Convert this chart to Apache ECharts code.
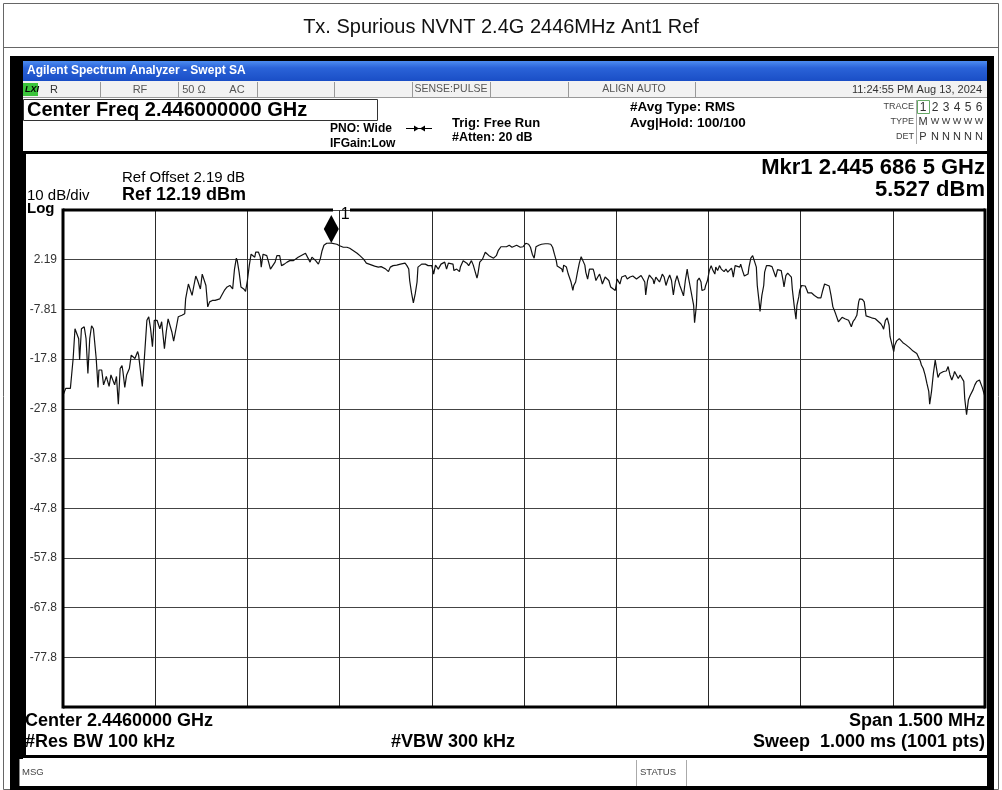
<!DOCTYPE html>
<html>
<head>
    <meta charset="utf-8">
    <title>Tx. Spurious NVNT 2.4G 2446MHz Ant1 Ref</title>
    <style>
        * { margin: 0; padding: 0; }
        body { background: #fff; }
        #main { width: 1002px; height: 790px; }
    </style>
    <script src="https://cdn.jsdelivr.net/npm/echarts@6/dist/echarts.min.js"></script>
</head>
<body>
    <div id="main"></div>
    <script type="text/javascript">
        // trace points: point index (0..1000, 1001 pts over 1.5 MHz span) and level in dBm
        var traceIdx = [0, 3, 8, 9, 11, 13, 15, 17, 18, 20, 23, 25, 27, 29, 31, 33, 36, 38, 39, 42, 44, 47, 48, 50, 52, 54, 56, 58, 60, 62, 64, 65, 67, 69, 72, 74, 76, 78, 81, 82, 86, 88, 91, 93, 95, 97, 99, 102, 104, 105, 107, 110, 112, 114, 116, 118, 120, 123, 125, 129, 132, 133, 136, 138, 140, 142, 144, 146, 149, 151, 153, 155, 157, 159, 162, 165, 167, 170, 172, 175, 178, 181, 184, 186, 188, 189, 191, 193, 196, 198, 200, 202, 204, 206, 208, 209, 212, 214, 215, 217, 219, 221, 223, 225, 227, 230, 232, 235, 237, 240, 243, 246,
            250, 252, 255, 259, 263, 265, 268, 270, 272, 274, 277, 279, 281, 283, 286, 291, 293, 297, 300, 304, 308, 311, 315, 319, 322, 326, 329, 331, 335, 338, 342, 345, 347, 350, 353, 355, 358, 362, 366, 368, 371, 373, 375, 376, 378, 380, 382, 384, 385, 387, 389, 391, 393, 394, 396, 398, 400, 402, 404, 405, 407, 410, 412, 414, 416, 418, 420, 423, 424, 427, 430, 431, 434, 436, 438, 440, 443, 445, 447, 449, 450, 452, 455, 458, 460, 462, 464, 467, 470, 472, 475, 478, 481, 484, 487, 489, 492, 496, 499,
            502, 505, 507, 509, 511, 513, 516, 519, 523, 526, 529, 531, 533, 535, 536, 538, 541, 542, 543, 546, 548, 551, 553, 554, 556, 558, 560, 562, 564, 566, 567, 569, 571, 572, 575, 576, 578, 580, 582, 584, 585, 588, 590, 592, 594, 596, 599, 601, 602, 604, 606, 608, 610, 612, 615, 618, 620, 622, 624, 627, 629, 631, 632, 634, 636, 638, 640, 641, 643, 645, 647, 649, 650, 652, 654, 656, 658, 660, 661, 662, 664, 666, 667, 669, 671, 673, 675, 677, 678, 680, 682, 684, 685, 687, 688, 690, 692, 693, 696, 697, 699, 701, 703, 705, 707, 708, 710, 712, 714, 716, 717, 719, 721, 723, 725, 726, 727, 729, 731, 734, 735, 737, 739, 741, 743, 744, 746, 748, 750,
            752, 753, 755, 756, 758, 760, 761, 763, 766, 769, 771, 773, 775, 777, 779, 781, 782, 784, 786, 788, 790, 791, 793, 795, 796, 798, 799, 801, 803, 805, 807, 808, 810, 812, 815, 817, 819, 822, 824, 826, 828, 831, 833, 835, 837, 838, 841, 843, 845, 846, 848, 850, 852, 854, 855, 857, 859, 861, 863, 864, 867, 869, 871, 873, 877, 881, 884, 887, 889, 890, 892, 894, 896, 897, 899, 901, 902, 904, 907, 909, 911, 914, 916, 918, 920, 922, 924, 926, 928, 930, 931, 933, 935, 937, 939, 940, 942, 944, 946, 948, 949, 951, 953, 955, 957, 958, 960, 962, 964, 966, 967, 969, 971, 973, 975, 977, 978, 980, 982, 984, 986, 987, 989, 991, 994, 996, 997, 1000];
        var traceDbm = [-25.1, -23.7, -23.7, -21.7, -17.7, -11.7, -11.3, -13.7, -18.0, -11.7, -11.3, -13.7, -20.7, -13.7, -11.1, -11.7, -17.7, -23.5, -20.0, -20.0, -23.0, -21.3, -22.0, -23.3, -21.0, -21.0, -23.0, -21.3, -26.9, -19.7, -19.1, -20.3, -23.5, -21.0, -19.7, -17.0, -16.7, -17.7, -16.3, -17.0, -23.3, -18.3, -10.0, -9.3, -11.7, -15.3, -10.0, -10.0, -10.3, -11.7, -10.3, -15.7, -12.3, -9.7, -10.0, -12.3, -14.2, -11.3, -9.3, -9.0, -8.7, -5.7, -2.7, -2.3, -5.0, -3.0, -1.1, -2.0, -3.7, -0.7, -0.3, -3.0, -7.3, -6.3, -6.0, -6.0, -6.3, -5.7, -5.0, -4.0, -3.3, -3.0, -3.7, 0.3, 2.5, 2.0, -0.3, -3.3, -3.7, -4.2, -2.0, 1.0, 3.3, 3.7, 2.7, 3.7, 3.7, 2.7, 0.7, 3.3, 3.7, 3.0, 1.7, 0.3, 0.7, 1.7, 3.0, 3.0, 1.0, 1.3, 1.7, 2.0,
            2.0, 2.2, 2.7, 3.1, 3.5, 3.1, 1.7, 2.7, 3.0, 2.0, 1.3, 2.3, 4.0, 5.1, 5.5, 5.527, 5.5, 5.3, 5.0, 4.7, 4.7, 4.5, 4.0, 3.5, 3.0, 2.3, 1.5, 1.3, 1.1, 0.9, 0.7, 0.8, 0.7, 0.3, -0.2, 0.7, 1.0, 1.1, 1.3, 1.1, 1.5, 1.0, 0.3, -2.0, -4.5, -6.5, -4.7, -2.3, 0.7, 1.0, 1.3, 1.0, 1.3, 1.5, 1.0, 1.3, 1.0, -0.7, 1.1, 1.0, 0.3, 1.3, 1.7, 1.7, 0.3, 1.5, 1.8, 1.3, 0.0, 0.3, -0.2, 0.7, 2.0, 2.2, 1.5, 1.0, 2.0, 1.1, -0.2, -1.5, -0.7, 1.7, 2.3, 3.7, 3.8, 3.0, 2.7, 2.5, 3.0, 4.0, 4.8, 4.8, 4.8, 5.1, 4.7, 5.0, 5.1, 4.7, 4.8,
            5.5, 5.3, 4.7, 3.3, 2.5, 4.8, 5.1, 5.3, 5.4, 5.4, 5.3, 4.7, 3.3, 2.0, 0.9, 1.0, 0.3, -0.3, 1.1, 0.7, -0.7, -2.3, -4.0, -3.0, -2.3, -0.3, 1.5, 2.8, 2.7, 1.1, -0.3, -1.7, 0.3, 0.7, 0.3, -0.3, -2.0, -1.3, -0.7, -2.0, -2.7, -1.3, -1.0, -2.0, -3.3, -3.7, -4.0, -1.7, -1.3, -2.7, -1.3, -1.7, -1.0, -1.7, -1.3, -1.1, -1.3, -1.7, -1.3, -1.0, -1.3, -2.3, -4.9, -2.0, -0.9, -0.7, -1.8, -2.7, -1.3, -1.8, -2.3, -1.3, -0.7, -1.3, -3.0, -1.8, -0.9, -2.0, -3.5, -4.9, -2.3, -1.0, -1.7, -3.0, -4.0, -5.1, -2.0, 0.3, -1.0, -3.0, -3.3, -7.0, -10.5, -7.0, -2.0, -1.5, -2.3, -4.0, -3.8, -3.0, -2.0, 0.0, 1.0, 0.0, -0.7, 0.7, 0.0, 1.0, 0.3, 0.3, -0.2, 0.3, -0.3, 0.0, 0.5, -0.2, -1.3, 1.0, 1.3, 0.7, 1.3, 0.0, -1.1, -1.5, -0.7, 0.7, 2.5, 3.0, 2.7,
            0.7, -3.0, -6.3, -8.2, -5.0, -3.0, -0.3, 1.0, 1.0, 0.8, 0.5, -1.3, 0.2, 0.3, 0.0, -2.0, -3.3, -1.0, -0.5, -0.7, -1.3, -3.7, -7.0, -9.8, -7.0, -5.3, -4.0, -3.0, -2.9, -3.1, -4.0, -4.5, -4.2, -4.5, -5.0, -5.1, -5.5, -5.5, -4.0, -2.7, -2.9, -3.1, -5.0, -7.3, -8.2, -8.7, -10.3, -10.5, -9.4, -9.1, -9.7, -9.8, -10.0, -9.7, -11.3, -10.2, -9.7, -9.0, -6.3, -5.7, -5.8, -6.3, -9.1, -9.3, -9.5, -9.7, -10.2, -10.7, -11.3, -11.8, -10.0, -9.5, -11.0, -13.3, -13.7, -16.3, -15.1, -14.2, -13.7, -13.8, -14.5, -14.9, -15.1, -15.5, -15.7, -16.2, -16.5, -16.7, -17.5, -18.3, -19.0, -19.7, -21.0, -22.7, -24.3, -26.9, -24.3, -20.7, -18.0, -18.0, -21.5, -20.7, -20.3, -20.3, -20.7, -20.2, -19.3, -21.0, -22.0, -21.0, -20.3, -20.3, -21.7, -21.0, -21.1, -22.3, -25.7, -29.0, -26.0, -25.1, -25.5, -24.0, -23.0, -22.3, -22.0, -22.3, -23.5, -25.4];

        // marker 1
        var markerIdx = 291;
        var markerDbm = 5.527;

        // axis: ref level 12.19 dBm, 10 dB/div, 10 divisions
        var refLevel = 12.19;
        var dbPerDiv = 10;
        var numDivs = 10;

        var FONT = "'Liberation Sans', Arial, sans-serif";

        const main = document.getElementById("main");
        var chart = echarts.init(main, null, { renderer: 'canvas' });

        var gLeft = 63, gTop = 210, gW = 922, gH = 497;

        var els = [];
        function rect(x, y, w, h, fill, stroke, z) {
            els.push({
                type: 'rect', z: z || 1, silent: true,
                shape: { x: x, y: y, width: w, height: h },
                style: { fill: fill || 'none', stroke: stroke || null, lineWidth: 1 }
            });
        }
        function line(x1, y1, x2, y2, color, w, z) {
            els.push({
                type: 'line', z: z || 1, silent: true,
                shape: { x1: x1, y1: y1, x2: x2, y2: y2 },
                style: { stroke: color, lineWidth: w || 1 }
            });
        }
        function txt(x, y, s, size, opts) {
            opts = opts || {};
            els.push({
                type: 'text', z: 5, silent: true, x: x, y: y,
                style: {
                    text: s, fontSize: size, fontFamily: opts.font || FONT,
                    fontWeight: opts.bold ? 'bold' : 'normal',
                    fontStyle: opts.italic ? 'italic' : 'normal',
                    fill: opts.color || '#000',
                    align: opts.align || 'left', verticalAlign: 'middle'
                }
            });
        }

        // page frame and title
        rect(3.5, 3.5, 995, 786, null, '#666');
        line(3.5, 47.5, 998.5, 47.5, '#666', 1);
        txt(501, 27, 'Tx. Spurious NVNT 2.4G 2446MHz Ant1 Ref', 20, { align: 'center', color: '#111' });

        // black screen frame
        rect(10, 56, 984, 5, '#000');
        rect(10, 56, 13, 734, '#000');
        rect(987, 56, 7, 734, '#000');
        rect(10, 786, 984, 4, '#000');

        // title bar
        els.push({
            type: 'rect', z: 1, silent: true,
            shape: { x: 23, y: 61, width: 964, height: 20 },
            style: {
                fill: new echarts.graphic.LinearGradient(0, 0, 0, 1, [
                    { offset: 0, color: '#4d8cf0' },
                    { offset: 0.35, color: '#2a63d8' },
                    { offset: 1, color: '#1a4ec6' }
                ])
            }
        });
        txt(27, 71, 'Agilent Spectrum Analyzer - Swept SA', 12, { bold: true, color: '#fff' });

        // status row
        rect(23, 81, 964, 17, '#f2f2f2');
        line(23, 97.5, 987, 97.5, '#999', 1);
        [100, 178, 257, 334, 412, 490, 568, 695].forEach(function (x) {
            line(x + 0.5, 82, x + 0.5, 97, '#999', 1);
        });
        rect(23, 83, 15, 13, '#3bc43b');
        txt(25, 89.5, 'LXI', 9, { bold: true, italic: true });
        txt(50, 89.5, 'R', 11, { color: '#333' });
        txt(140, 89.5, 'RF', 11, { color: '#555', align: 'center' });
        txt(194, 89.5, '50 Ω', 11, { color: '#555', align: 'center' });
        txt(237, 89.5, 'AC', 11, { color: '#555', align: 'center' });
        txt(451, 89.5, 'SENSE:PULSE', 10.5, { color: '#555', align: 'center' });
        txt(634, 89.5, 'ALIGN AUTO', 10.5, { color: '#555', align: 'center' });
        txt(982, 89.5, '11:24:55 PM Aug 13, 2024', 11, { color: '#333', align: 'right' });

        // header block
        rect(23.5, 99.5, 354, 21, null, '#333');
        txt(27, 110.5, 'Center Freq 2.446000000 GHz', 20, { bold: true });
        txt(330, 129, 'PNO: Wide', 12, { bold: true });
        txt(330, 144, 'IFGain:Low', 12, { bold: true });
        line(406, 128.5, 432, 128.5, '#000', 1);
        els.push({ type: 'polygon', z: 5, silent: true, shape: { points: [[414, 125.5], [419, 128.5], [414, 131.5]] }, style: { fill: '#000' } });
        els.push({ type: 'polygon', z: 5, silent: true, shape: { points: [[425, 125.5], [420, 128.5], [425, 131.5]] }, style: { fill: '#000' } });
        txt(452, 123, 'Trig: Free Run', 13, { bold: true });
        txt(452, 138, '#Atten: 20 dB', 12.5, { bold: true });
        txt(630, 107, '#Avg Type: RMS', 13.5, { bold: true });
        txt(630, 123, 'Avg|Hold: 100/100', 13.5, { bold: true });

        // trace table
        line(916.5, 100, 916.5, 144, '#aaa', 1);
        txt(914, 107, 'TRACE', 9, { color: '#444', align: 'right' });
        txt(914, 122, 'TYPE', 9, { color: '#444', align: 'right' });
        txt(914, 137, 'DET', 9, { color: '#444', align: 'right' });
        rect(917.5, 100.5, 12, 13, null, '#6a6');
        var traceCols = [923, 935, 946, 957, 968, 979];
        var traceNums = ['1', '2', '3', '4', '5', '6'];
        var traceTypes = ['M', 'W', 'W', 'W', 'W', 'W'];
        var traceDets = ['P', 'N', 'N', 'N', 'N', 'N'];
        traceCols.forEach(function (x, i) {
            txt(x, 107.5, traceNums[i], 12, { color: '#333', align: 'center' });
            txt(x, 122, traceTypes[i], i === 0 ? 11 : 9, { color: '#333', align: 'center' });
            txt(x, 137, traceDets[i], 11, { color: '#333', align: 'center' });
        });

        // graph panel frame
        rect(23, 151, 964, 3, '#000');
        rect(23, 151, 3, 607, '#000');
        rect(23, 755, 964, 3, '#000');

        txt(122, 178, 'Ref Offset 2.19 dB', 15);
        txt(122, 195, 'Ref 12.19 dBm', 18, { bold: true });
        txt(27, 196, '10 dB/div', 15);
        txt(27, 209, 'Log', 15, { bold: true });
        txt(985, 168, 'Mkr1 2.445 686 5 GHz', 22, { bold: true, align: 'right' });
        txt(985, 190, '5.527 dBm', 22, { bold: true, align: 'right' });

        txt(25, 721, 'Center 2.4460000 GHz', 18, { bold: true });
        txt(985, 721, 'Span 1.500 MHz', 18, { bold: true, align: 'right' });
        txt(25, 742, '#Res BW 100 kHz', 18, { bold: true });
        txt(453, 742, '#VBW 300 kHz', 18, { bold: true, align: 'center' });
        txt(985, 742, 'Sweep  1.000 ms (1001 pts)', 18, { bold: true, align: 'right' });

        // message row
        rect(19, 759, 4, 27, '#fff', null, 2);
        line(19.5, 759, 19.5, 786, '#888', 1, 2);
        line(636.5, 760, 636.5, 786, '#aaa', 1);
        line(686.5, 760, 686.5, 786, '#aaa', 1);
        txt(22, 772, 'MSG', 9.5, { color: '#444' });
        txt(640, 772, 'STATUS', 9.5, { color: '#444' });

        // grid border (gap in top edge behind marker label)
        line(gLeft, gTop, 333, gTop, '#000', 3, 50);
        line(350, gTop, gLeft + gW, gTop, '#000', 3, 50);
        line(gLeft, gTop - 1.5, gLeft, gTop + gH + 1.5, '#000', 3, 50);
        line(gLeft, gTop + gH, gLeft + gW, gTop + gH, '#000', 3, 50);
        line(gLeft + gW, gTop - 1.5, gLeft + gW, gTop + gH + 1.5, '#000', 3, 50);

        var traceData = traceIdx.map(function (x, i) { return [x, traceDbm[i]]; });

        var option = {
            animation: false,
            backgroundColor: '#fff',
            grid: { left: gLeft, top: gTop, width: gW, height: gH, containLabel: false },
            xAxis: {
                type: 'value', min: 0, max: 1000, interval: 100,
                axisLine: { show: false }, axisTick: { show: false }, axisLabel: { show: false },
                splitLine: { show: true, lineStyle: { color: '#2a2a2a', width: 1 } }
            },
            yAxis: {
                type: 'value',
                min: refLevel - dbPerDiv * numDivs, max: refLevel, interval: dbPerDiv,
                axisLine: { show: false }, axisTick: { show: false },
                axisLabel: {
                    show: true, margin: 6, color: '#333', fontSize: 12, fontFamily: FONT,
                    showMinLabel: false, showMaxLabel: false,
                    formatter: function (v) { return Number(v).toPrecision(3); }
                },
                splitLine: { show: true, lineStyle: { color: '#444', width: 1 } }
            },
            series: [{
                type: 'line',
                data: traceData,
                showSymbol: false,
                symbol: 'none',
                z: 10,
                lineStyle: { color: '#111', width: 1.2 },
                markPoint: {
                    symbol: 'diamond',
                    symbolSize: [15, 28],
                    symbolOffset: [0, -14],
                    itemStyle: { color: '#000' },
                    label: { show: true, formatter: '1', position: [17, -9], color: '#000', fontSize: 16, fontFamily: FONT },
                    data: [{ coord: [markerIdx, markerDbm] }]
                }
            }],
            graphic: { elements: els }
        };
        chart.setOption(option);
    </script>
</body>
</html>
